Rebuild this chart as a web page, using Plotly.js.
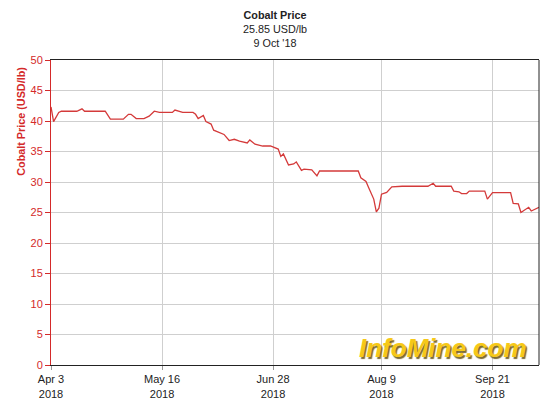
<!DOCTYPE html>
<html>
<head>
<meta charset="utf-8">
<script src="https://cdn.plot.ly/plotly-3.0.1.min.js"></script>
<style>html,body{margin:0;padding:0;background:#fff;}#chart{width:550px;height:402px;}</style>
</head>
<body>
<div id="chart"></div>
<script>
const dates = ['2018-04-03','2018-04-04','2018-04-06','2018-04-07','2018-04-13','2018-04-15','2018-04-16','2018-04-24','2018-04-26','2018-05-01','2018-05-03','2018-05-04','2018-05-06','2018-05-09','2018-05-11','2018-05-13','2018-05-15','2018-05-20','2018-05-21','2018-05-24','2018-05-28','2018-05-29','2018-05-30','2018-06-01','2018-06-02','2018-06-04','2018-06-05','2018-06-07','2018-06-09','2018-06-11','2018-06-13','2018-06-15','2018-06-18','2018-06-19','2018-06-21','2018-06-24','2018-06-27','2018-06-30','2018-07-01','2018-07-02','2018-07-04','2018-07-06','2018-07-07','2018-07-09','2018-07-10','2018-07-13','2018-07-15','2018-07-16','2018-07-31','2018-08-01','2018-08-03','2018-08-04','2018-08-06','2018-08-07','2018-08-08','2018-08-09','2018-08-11','2018-08-13','2018-08-17','2018-08-27','2018-08-29','2018-08-30','2018-09-05','2018-09-06','2018-09-08','2018-09-09','2018-09-11','2018-09-12','2018-09-18','2018-09-19','2018-09-21','2018-09-28','2018-09-29','2018-10-01','2018-10-02','2018-10-03','2018-10-05','2018-10-06','2018-10-09'];
const prices = [42.3,39.9,41.4,41.6,41.6,42.0,41.6,41.6,40.3,40.3,41.1,41.1,40.4,40.4,40.8,41.6,41.4,41.4,41.8,41.4,41.4,41.1,40.4,40.9,39.9,39.5,38.5,38.1,37.8,36.8,37.0,36.7,36.4,36.9,36.2,35.9,35.9,35.4,34.2,34.6,32.8,32.95,33.3,31.9,32.1,32.0,31.0,31.8,31.8,30.7,30.1,29.1,27.2,25.1,25.7,28.0,28.3,29.2,29.3,29.3,29.8,29.3,29.3,28.5,28.4,28.1,28.1,28.5,28.5,27.2,28.25,28.25,26.5,26.4,25.0,25.3,25.85,25.25,25.85];
const xTickVals = ['2018-04-03','2018-05-16','2018-06-28','2018-08-09','2018-09-21'];
const xTickText = ['Apr 3<br>2018','May 16<br>2018','Jun 28<br>2018','Aug 9<br>2018','Sep 21<br>2018'];
const yTickVals = [0,5,10,15,20,25,30,35,40,45,50];

const red = '#d42a2a';
const font = 'Liberation Sans, Arial, sans-serif';

const trace = {
  x: dates, y: prices, type: 'scatter', mode: 'lines',
  line: {color: '#d43a3a', width: 1.3},
  hoverinfo: 'x+y', showlegend: false
};

const layout = {
  width: 550, height: 402,
  margin: {l: 51, r: 11, t: 60, b: 37, pad: 0},
  paper_bgcolor: '#ffffff', plot_bgcolor: '#ffffff',
  font: {family: font, size: 11, color: '#222'},
  title: {
    text: "<b>Cobalt Price</b><br>25.85 USD/lb<br>9 Oct '18",
    font: {family: font, size: 10.8, color: '#222'},
    x: 0.5, xref: 'container', xanchor: 'center',
    y: 1 - 19/402, yref: 'container', yanchor: 'top'
  },
  xaxis: {
    type: 'date',
    range: ['2018-04-03', '2018-10-09'],
    tickmode: 'array', tickvals: xTickVals, ticktext: xTickText,
    showgrid: true, gridcolor: '#cfcfcf', gridwidth: 1,
    showline: true, linecolor: '#222', linewidth: 1, mirror: true,
    ticks: 'outside', ticklen: 4, tickcolor: '#999',
    tickfont: {family: font, size: 11, color: '#222'},
    zeroline: false, fixedrange: true
  },
  yaxis: {
    range: [0, 50],
    tickmode: 'array', tickvals: yTickVals,
    showgrid: true, gridcolor: '#cfcfcf', gridwidth: 1,
    showline: true, linecolor: red, linewidth: 1,
    ticks: 'outside', ticklen: 5, tickcolor: red,
    tickfont: {family: font, size: 11, color: red},
    zeroline: false, fixedrange: true
  },
  shapes: [
    {type: 'line', xref: 'paper', yref: 'paper', x0: 1, x1: 1, y0: 0, y1: 1,
     line: {color: '#222', width: 1}}
  ],
  annotations: [
    {text: '<b>Cobalt Price (USD/lb)</b>', xref: 'paper', yref: 'paper',
     x: -0.062, y: 0.80, xanchor: 'center', yanchor: 'middle', textangle: -90,
     showarrow: false, font: {family: font, size: 10.8, color: red}},
    {text: 'InfoMine.com', xref: 'paper', yref: 'paper',
     x: 0.803, y: 0.056, xanchor: 'center', yanchor: 'middle',
     showarrow: false,
     font: {family: font, size: 26, color: '#f6c818', weight: 'bold', style: 'italic',
            shadow: '1.5px 1.5px 1px #7a6a30'}}
  ]
};

Plotly.newPlot('chart', [trace], layout, {displayModeBar: false, staticPlot: true});
</script>
</body>
</html>
